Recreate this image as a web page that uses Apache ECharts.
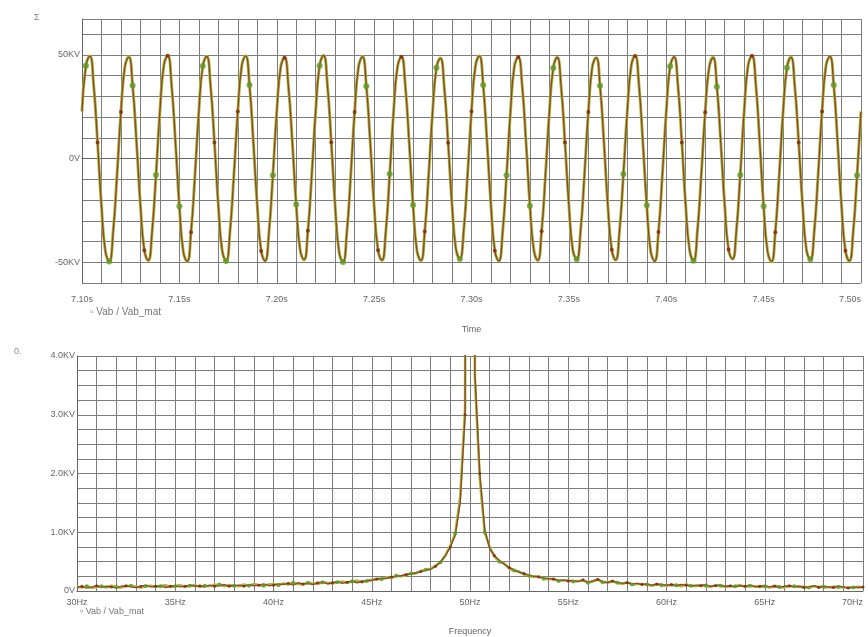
<!DOCTYPE html>
<html>
<head>
<meta charset="utf-8">
<script src="https://cdn.jsdelivr.net/npm/echarts@6/dist/echarts.min.js"></script>
<style>html,body{margin:0;padding:0;background:#fff}#c{width:868px;height:637px}</style>
</head>
<body>
<div id="c"></div>
<script>
// ---- Data ----
// Time-domain trace: samples every 2 ms from 7.10 s to 7.50 s
const timeStart = 7.10;
const timeStep = 0.002;
const vabTime = [
 22.7,44.6,49.4,35.4,7.8,-22.7,-44.6,-49.4,-35.4,-7.8,
 22.5,44.1,48.9,35.0,7.7,-22.5,-44.2,-49.0,-35.0,-7.7,
 22.8,44.7,49.6,35.5,7.8,-22.8,-44.8,-49.6,-35.5,-7.9,
 22.6,44.4,49.2,35.2,7.8,-22.6,-44.4,-49.2,-35.2,-7.8,
 22.7,44.5,49.4,35.3,7.8,-22.7,-44.6,-49.4,-35.4,-7.8,
 22.3,43.8,48.6,34.8,7.7,-22.4,-43.9,-48.7,-34.8,-7.7,
 22.9,44.9,49.8,35.6,7.9,-22.9,-44.9,-49.8,-35.6,-7.9,
 22.5,44.2,49.0,35.1,7.7,-22.5,-44.2,-49.0,-35.1,-7.7,
 22.6,44.3,49.1,35.1,7.8,-22.6,-44.3,-49.1,-35.2,-7.8,
 22.2,43.6,48.3,34.6,7.6,-22.2,-43.6,-48.3,-34.6,-7.6,
 22.7,44.6,49.4,35.3,7.8,-22.7,-44.5,-49.4,-35.4,-7.8,
 22.5,44.2,49.0,35.1,7.7,-22.5,-44.2,-49.0,-35.1,-7.7,
 22.4,43.9,48.7,34.9,7.7,-22.4,-43.9,-48.7,-34.9,-7.7,
 22.4,44.0,48.8,34.9,7.7,-22.4,-44.0,-48.8,-34.9,-7.7,
 22.7,44.6,49.5,35.4,7.8,-22.7,-44.6,-49.5,-35.4,-7.8,
 22.6,44.3,49.1,35.1,7.8,-22.6,-44.3,-49.1,-35.1,-7.8,
 22.3,43.8,48.6,34.8,7.7,-22.3,-43.8,-48.6,-34.8,-7.7,
 22.8,44.7,49.6,35.5,7.8,-22.8,-44.7,-49.6,-35.5,-7.8,
 22.4,44.0,48.8,34.9,7.7,-22.4,-44.0,-48.8,-34.9,-7.7,
 22.7,44.5,49.3,35.3,7.8,-22.7,-44.5,-49.3,-35.3,-7.8,
 22.6
];
const vabMatTime = [
 22.9,44.8,49.5,35.2,7.5,-22.9,-44.7,-49.6,-35.1,-7.5,
 22.7,44.3,49.1,35.2,7.9,-22.3,-44.0,-49.2,-35.3,-7.9,
 22.6,44.9,49.8,35.3,7.6,-23.0,-44.9,-49.5,-35.2,-8.1,
 22.8,44.6,49.3,35.4,8.0,-22.4,-44.6,-49.4,-35.0,-7.6,
 22.5,44.7,49.6,35.5,7.6,-22.9,-44.4,-49.2,-35.6,-8.0,
 22.5,44.0,48.8,34.6,7.9,-22.2,-44.1,-48.9,-34.6,-7.5,
 23.1,44.7,49.7,35.8,7.7,-23.1,-45.0,-49.9,-35.4,-8.1,
 22.3,44.4,49.2,34.9,7.9,-22.7,-44.0,-49.1,-35.3,-7.5,
 22.8,44.1,49.0,35.3,7.6,-22.4,-44.5,-49.3,-35.0,-8.0,
 22.0,43.8,48.5,34.4,7.8,-22.4,-43.4,-48.4,-34.8,-7.4,
 22.9,44.4,49.6,35.5,7.6,-22.5,-44.7,-49.3,-35.2,-8.0,
 22.3,44.4,48.9,35.3,7.9,-22.7,-44.0,-49.2,-34.9,-7.5,
 22.6,43.7,48.9,34.7,7.5,-22.2,-44.1,-48.5,-35.1,-7.9,
 22.2,44.2,48.6,35.1,7.9,-22.6,-43.8,-49.0,-34.7,-7.5,
 22.9,44.4,49.7,35.2,7.6,-22.5,-44.8,-49.3,-35.6,-8.0,
 22.4,44.5,48.9,35.3,8.0,-22.8,-44.1,-49.3,-34.9,-7.6,
 22.5,43.6,48.8,34.6,7.5,-22.1,-44.0,-48.4,-35.0,-7.9,
 22.6,44.9,49.4,35.7,7.6,-23.0,-44.5,-49.8,-35.3,-8.0,
 22.6,43.8,49.0,34.7,7.9,-22.2,-44.2,-48.6,-35.1,-7.5,
 22.5,44.7,49.1,35.5,7.6,-22.9,-44.3,-49.5,-35.1,-8.0,
 22.8
];
// Spectrum: samples every 0.25 Hz from 30 Hz to 70 Hz (KV)
const freqStart = 30;
const freqStep = 0.25;
const vabSpec = [
 0.06,0.08,0.05,0.07,0.09,0.06,0.08,0.07,0.05,0.08,0.09,0.07,0.06,0.08,0.10,0.07,0.08,0.09,0.06,0.08,
 0.09,0.07,0.08,0.10,0.08,0.09,0.07,0.10,0.08,0.09,0.11,0.08,0.09,0.10,0.08,0.11,0.09,0.10,0.12,0.09,
 0.10,0.12,0.11,0.13,0.10,0.14,0.12,0.13,0.11,0.14,0.15,0.12,0.14,0.16,0.13,0.15,0.17,0.14,0.16,0.18,
 0.18,0.20,0.22,0.21,0.24,0.25,0.26,0.28,0.29,0.31,0.33,0.35,0.37,0.42,0.50,0.60,0.75,0.95,1.5,3.0,
 45.0,3.7,2.0,1.05,0.72,0.60,0.52,0.45,0.40,0.36,0.32,0.30,0.27,0.25,0.24,0.22,0.21,0.20,0.18,0.19,
 0.17,0.18,0.16,0.19,0.15,0.17,0.20,0.16,0.14,0.17,0.15,0.13,0.14,0.12,0.13,0.11,0.12,0.10,0.12,0.11,
 0.10,0.11,0.09,0.11,0.10,0.08,0.10,0.09,0.11,0.08,0.09,0.10,0.08,0.09,0.07,0.09,0.08,0.10,0.07,0.08,
 0.09,0.07,0.08,0.06,0.08,0.09,0.07,0.08,0.06,0.07,0.09,0.06,0.08,0.07,0.06,0.08,0.07,0.05,0.07,0.06,
 0.07
];
const vabMatSpec = [
 0.07,0.06,0.08,0.05,0.07,0.08,0.06,0.09,0.07,0.06,0.08,0.09,0.07,0.06,0.08,0.09,0.07,0.08,0.10,0.07,
 0.08,0.10,0.07,0.09,0.10,0.07,0.09,0.08,0.10,0.11,0.08,0.10,0.09,0.08,0.11,0.09,0.12,0.10,0.09,0.11,
 0.12,0.10,0.13,0.11,0.14,0.12,0.11,0.14,0.13,0.12,0.15,0.14,0.13,0.15,0.16,0.14,0.16,0.18,0.15,0.17,
 0.19,0.21,0.20,0.23,0.22,0.26,0.25,0.27,0.30,0.30,0.34,0.36,0.38,0.43,0.49,0.61,0.77,0.98,1.6,3.1,
 44.0,3.6,1.9,1.0,0.75,0.58,0.50,0.47,0.38,0.35,0.33,0.28,0.26,0.24,0.25,0.21,0.20,0.21,0.17,0.18,
 0.18,0.16,0.17,0.18,0.14,0.16,0.19,0.15,0.15,0.16,0.14,0.12,0.15,0.11,0.12,0.12,0.11,0.09,0.11,0.10,
 0.09,0.10,0.10,0.08,0.11,0.09,0.08,0.10,0.09,0.07,0.10,0.09,0.07,0.08,0.08,0.10,0.07,0.09,0.08,0.07,
 0.08,0.06,0.09,0.07,0.06,0.08,0.08,0.07,0.07,0.06,0.08,0.07,0.07,0.06,0.07,0.07,0.06,0.06,0.06,0.07,
 0.06
];
const seriesNames = ['Vab', 'Vab_mat'];
const timeTickLabels = ['7.10s','7.15s','7.20s','7.25s','7.30s','7.35s','7.40s','7.45s','7.50s'];
const freqTickLabels = ['30Hz','35Hz','40Hz','45Hz','50Hz','55Hz','60Hz','65Hz','70Hz'];

// ---- Build chart ----
function pairs(start, step, vals, dec) {
  return vals.map((v, i) => [+(start + i * step).toFixed(dec), v]);
}
function pick(arr, offset, stride, maxY) {
  return arr.filter((p, i) => i >= offset && (i - offset) % stride === 0 && p[1] <= maxY);
}
const tVab = pairs(timeStart, timeStep, vabTime, 4);
const tMat = pairs(timeStart, timeStep, vabMatTime, 4);
const fVab = pairs(freqStart, freqStep, vabSpec, 2);
const fMat = pairs(freqStart, freqStep, vabMatSpec, 2);

const FONT = 'Liberation Sans';
const labelStyle = { color: '#666', fontSize: 9, fontFamily: FONT };
const gridLine = { show: true, lineStyle: { color: '#7d7d7d', width: 1 } };
const axisLine = { show: true, lineStyle: { color: '#666', width: 1 } };
const RED = '#8d4a2b', GREEN = '#a8bb3c', RED_DOT = '#8a2412', GREEN_DOT = '#5f9a24';

const chart = echarts.init(document.getElementById('c'), null, { renderer: 'canvas' });
chart.setOption({
  animation: false,
  backgroundColor: '#fff',
  grid: [
    { left: 82, top: 19, width: 779, height: 264 },
    { left: 77, top: 356, width: 786, height: 236 }
  ],
  xAxis: [
    {
      gridIndex: 0, type: 'value', min: 7.10, max: 7.50, interval: 0.01,
      name: 'Time', nameLocation: 'middle', nameGap: 42,
      nameTextStyle: { color: '#666', fontSize: 9, fontFamily: FONT },
      axisLine: axisLine, axisTick: { show: false }, splitLine: gridLine,
      axisLabel: {
        ...labelStyle, margin: 12, showMinLabel: true, showMaxLabel: true, alignMaxLabel: 'right',
        formatter: v => { const k = Math.round((v - 7.10) * 100); return k % 5 === 0 ? timeTickLabels[k / 5] : ''; }
      }
    },
    {
      gridIndex: 1, type: 'value', min: 30, max: 70, interval: 1,
      name: 'Frequency', nameLocation: 'middle', nameGap: 36,
      nameTextStyle: { color: '#666', fontSize: 9, fontFamily: FONT },
      axisLine: axisLine, axisTick: { show: false }, splitLine: gridLine,
      axisLabel: {
        ...labelStyle, margin: 7, alignMaxLabel: 'right',
        formatter: v => { const k = Math.round(v - 30); return k % 5 === 0 ? freqTickLabels[k / 5] : ''; }
      }
    }
  ],
  yAxis: [
    {
      gridIndex: 0, type: 'value', min: -60, max: 67.3, interval: 10,
      axisLine: axisLine, axisTick: { show: false }, splitLine: gridLine,
      axisLabel: { ...labelStyle, margin: 2,
        formatter: v => v === 50 ? '50KV' : v === 0 ? '0V' : v === -50 ? '-50KV' : '' }
    },
    {
      gridIndex: 1, type: 'value', min: 0, max: 4, interval: 0.25,
      axisLine: axisLine, axisTick: { show: false }, splitLine: gridLine,
      axisLabel: { ...labelStyle, margin: 2,
        formatter: v => v === 0 ? '0V' : (Math.abs(v - Math.round(v)) < 1e-6 ? v.toFixed(1) + 'KV' : '') }
    }
  ],
  series: [
    { name: seriesNames[1], type: 'line', xAxisIndex: 0, yAxisIndex: 0, data: tMat, smooth: 0.5, showSymbol: false,
      lineStyle: { color: GREEN, width: 3 }, z: 2 },
    { name: seriesNames[0], type: 'line', xAxisIndex: 0, yAxisIndex: 0, data: tVab, smooth: 0.5, showSymbol: false,
      lineStyle: { color: RED, width: 1.4 }, z: 3 },
    { type: 'scatter', xAxisIndex: 0, yAxisIndex: 0, data: pick(tMat, 1, 6, 67), symbolSize: 6,
      itemStyle: { color: GREEN_DOT }, z: 4 },
    { type: 'scatter', xAxisIndex: 0, yAxisIndex: 0, data: pick(tVab, 4, 6, 67), symbolSize: 4,
      itemStyle: { color: RED_DOT }, z: 5 },

    { name: seriesNames[1], type: 'line', xAxisIndex: 1, yAxisIndex: 1, data: fMat, showSymbol: false,
      lineStyle: { color: GREEN, width: 2.6 }, z: 2 },
    { name: seriesNames[0], type: 'line', xAxisIndex: 1, yAxisIndex: 1, data: fVab, showSymbol: false,
      lineStyle: { color: RED, width: 1.4 }, z: 3 },
    { type: 'scatter', xAxisIndex: 1, yAxisIndex: 1, data: pick(fMat, 2, 3, 4), symbolSize: 4,
      itemStyle: { color: GREEN_DOT }, z: 4 },
    { type: 'scatter', xAxisIndex: 1, yAxisIndex: 1, data: pick(fVab, 1, 3, 4), symbolSize: 3,
      itemStyle: { color: RED_DOT }, z: 5 }
  ],
  graphic: [
    { type: 'text', left: 90, top: 307, style: { text: '\u25AB ' + seriesNames[0] + ' / ' + seriesNames[1], fill: '#777', fontSize: 10, fontFamily: FONT } },
    { type: 'text', left: 80, top: 607, style: { text: '\u25AB ' + seriesNames[0] + ' / ' + seriesNames[1], fill: '#777', fontSize: 9, fontFamily: FONT } },
    { type: 'text', left: 34, top: 13, style: { text: '\u03A3', fill: '#888', fontSize: 9, fontFamily: FONT } },
    { type: 'text', left: 14, top: 347, style: { text: '0.', fill: '#888', fontSize: 9, fontFamily: FONT } }
  ]
});
</script>
</body>
</html>
